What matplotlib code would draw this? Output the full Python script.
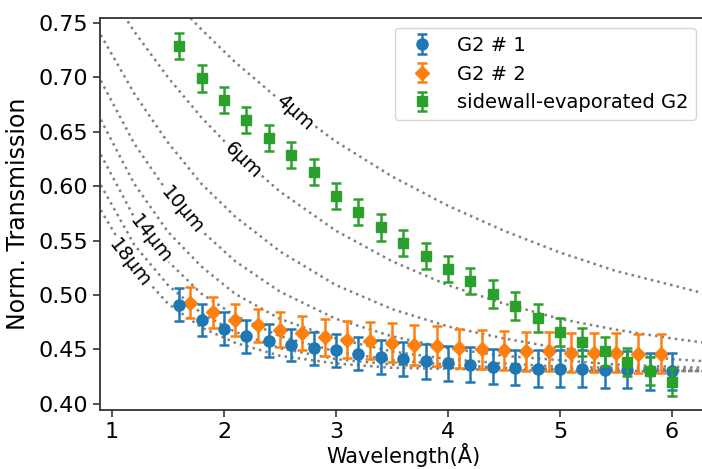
import numpy as np
import matplotlib
matplotlib.use("Agg")
from matplotlib import pyplot as plt

# measured points
lam_a = [1.6, 1.8, 2.0, 2.2, 2.4, 2.6, 2.8, 3.0, 3.2, 3.4, 3.6, 3.8,
         4.0, 4.2, 4.4, 4.6, 4.8, 5.0, 5.2, 5.4, 5.6, 5.8, 6.0]
lam_b = [1.7, 1.9, 2.1, 2.3, 2.5, 2.7, 2.9, 3.1, 3.3, 3.5, 3.7, 3.9,
         4.1, 4.3, 4.5, 4.7, 4.9, 5.1, 5.3, 5.5, 5.7, 5.9]

g2_1 = [0.491, 0.477, 0.469, 0.462, 0.458, 0.454, 0.451, 0.449, 0.446, 0.443,
        0.441, 0.439, 0.437, 0.436, 0.434, 0.433, 0.432, 0.432, 0.432, 0.431,
        0.431, 0.430, 0.430]
g2_1_err = [0.015, 0.015, 0.015, 0.015, 0.015, 0.015, 0.015, 0.015, 0.015, 0.016,
            0.016, 0.016, 0.016, 0.016, 0.016, 0.016, 0.017, 0.017, 0.017, 0.017,
            0.017, 0.017, 0.017]

g2_2 = [0.493, 0.484, 0.477, 0.472, 0.468, 0.465, 0.461, 0.459, 0.458, 0.456,
        0.454, 0.453, 0.451, 0.450, 0.449, 0.448, 0.448, 0.447, 0.447, 0.447,
        0.446, 0.446]
g2_2_err = [0.014, 0.014, 0.015, 0.015, 0.016, 0.016, 0.017, 0.017, 0.017, 0.018,
            0.018, 0.018, 0.018, 0.018, 0.018, 0.018, 0.018, 0.018, 0.018, 0.018,
            0.018, 0.018]

g2_side = [0.729, 0.699, 0.679, 0.661, 0.644, 0.629, 0.613, 0.591, 0.576, 0.562,
           0.548, 0.536, 0.524, 0.513, 0.501, 0.490, 0.479, 0.466, 0.457, 0.448,
           0.438, 0.430, 0.420]
g2_side_err = [0.012, 0.012, 0.012, 0.012, 0.012, 0.012, 0.012, 0.012, 0.012, 0.012,
               0.012, 0.012, 0.012, 0.012, 0.013, 0.013, 0.013, 0.013, 0.013, 0.013,
               0.013, 0.013, 0.013]

# dotted reference curves
lam_curve = [0.9, 1.2, 1.5, 1.8, 2.1, 2.5, 3.0, 3.5, 4.0, 4.5, 5.0, 5.5, 6.0, 6.3]
curves = {
    4: [0.850, 0.812, 0.776, 0.744, 0.714, 0.679, 0.641, 0.609, 0.582, 0.559, 0.539, 0.522, 0.509, 0.501],
    6: [0.790, 0.742, 0.700, 0.663, 0.631, 0.595, 0.559, 0.531, 0.509, 0.492, 0.478, 0.468, 0.460, 0.456],
    8: [0.739, 0.685, 0.640, 0.602, 0.572, 0.540, 0.509, 0.487, 0.471, 0.460, 0.451, 0.446, 0.441, 0.439],
    10: [0.697, 0.639, 0.594, 0.559, 0.531, 0.503, 0.478, 0.462, 0.451, 0.444, 0.440, 0.436, 0.434, 0.433],
    12: [0.661, 0.602, 0.558, 0.526, 0.501, 0.478, 0.460, 0.448, 0.441, 0.437, 0.434, 0.433, 0.432, 0.431],
    14: [0.629, 0.571, 0.531, 0.501, 0.481, 0.462, 0.448, 0.440, 0.436, 0.433, 0.432, 0.431, 0.431, 0.430],
    16: [0.601, 0.546, 0.509, 0.483, 0.466, 0.451, 0.441, 0.436, 0.433, 0.432, 0.431, 0.430, 0.430, 0.430],
    18: [0.578, 0.526, 0.492, 0.470, 0.456, 0.444, 0.437, 0.433, 0.432, 0.431, 0.430, 0.430, 0.430, 0.430],
}
# label: (lambda, T, rotation)
curve_labels = {4: (2.63, 0.668, -42), 6: (2.17, 0.624, -44),
                10: (1.625, 0.578, -50), 14: (1.348, 0.551, -52), 18: (1.16, 0.529, -52)}

fig = plt.figure(figsize=(7.02, 4.69), dpi=100)
ax = fig.add_axes([100 / 702, 1 - 410 / 469, 606 / 702, 392 / 469])

for t, vals in curves.items():
    ax.plot(lam_curve, vals, ls=':', color='gray', lw=1.8, zorder=1)
for t, (x, y, rot) in curve_labels.items():
    ax.text(x, y, '%dµm' % t, rotation=rot, ha='center', va='center', fontsize=14,
            rotation_mode='anchor', zorder=2,
            bbox=dict(facecolor='white', edgecolor='none', pad=0.5))

ax.errorbar(lam_a, g2_1, yerr=g2_1_err, fmt='o', color='#1f77b4', ms=8,
            capsize=3.5, elinewidth=1.8, capthick=1.8, label='G2 # 1', zorder=4)
ax.errorbar(lam_b, g2_2, yerr=g2_2_err, fmt='D', color='#ff7f0e', ms=7.5,
            capsize=3.5, elinewidth=1.8, capthick=1.8, label='G2 # 2', zorder=3)
ax.errorbar(lam_a, g2_side, yerr=g2_side_err, fmt='s', color='#2ca02c', ms=7.5,
            capsize=3.5, elinewidth=1.8, capthick=1.8,
            label='sidewall-evaporated G2', zorder=5)

ax.set_xlim(0.893, 6.304)
ax.set_ylim(0.3942, 0.7546)
ax.set_xticks([1, 2, 3, 4, 5, 6])
ax.set_yticks([0.40, 0.45, 0.50, 0.55, 0.60, 0.65, 0.70, 0.75])
ax.set_yticklabels(['%.2f' % v for v in ax.get_yticks()])
ax.tick_params(labelsize=16, length=5, width=1.2, color='#333333')
for s in ax.spines.values():
    s.set_color('#333333')
    s.set_linewidth(1.3)
ax.set_xlabel('Wavelength(Å)', fontsize=15, labelpad=1)
ax.set_ylabel('Norm. Transmission', fontsize=17, labelpad=6)

ax.legend(loc='upper right', bbox_to_anchor=(696 / 702, 1 - 28 / 469),
          bbox_transform=fig.transFigure, borderaxespad=0, fontsize=14)

plt.savefig('out.png', dpi=100)
